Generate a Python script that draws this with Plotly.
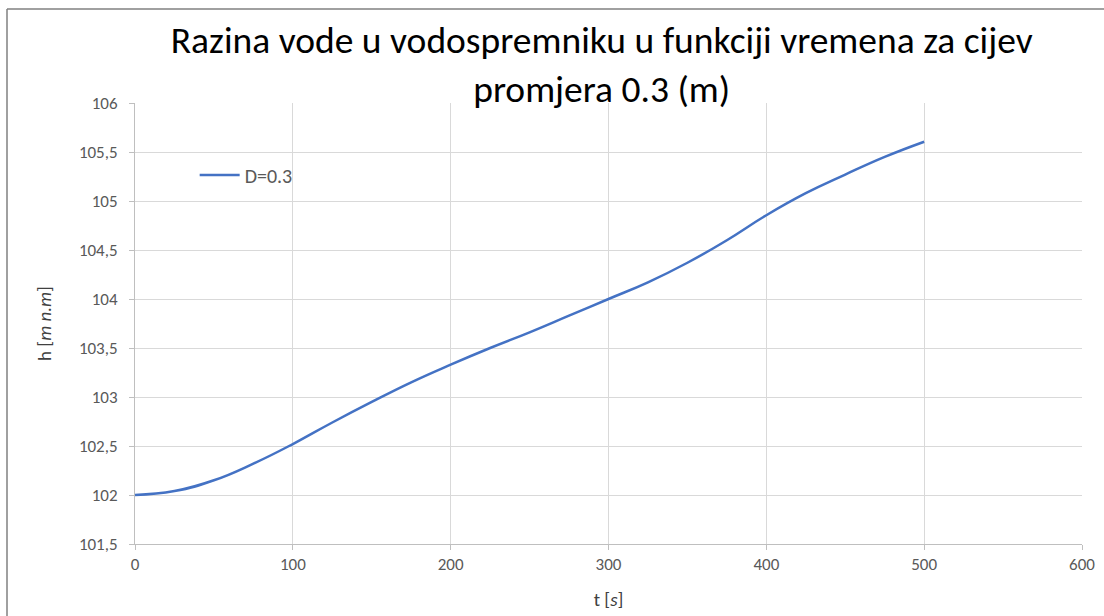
import plotly.graph_objects as go

t_vals = [0, 25, 50, 75, 100, 125, 150, 175, 200, 225, 250, 275, 300,
          325, 350, 375, 400, 425, 450, 475, 500]
h_vals = [102.0, 102.04, 102.15, 102.32, 102.52, 102.74, 102.95, 103.15, 103.33,
          103.50, 103.66, 103.83, 104.00, 104.17, 104.37, 104.60, 104.855,
          105.08, 105.27, 105.45, 105.605]
series_name = "D=0.3"
x_ticks = [0, 100, 200, 300, 400, 500, 600]
y_ticks = [101.5, 102, 102.5, 103, 103.5, 104, 104.5, 105, 105.5, 106]
y_tick_text = ["101,5", "102", "102,5", "103", "103,5", "104", "104,5", "105", "105,5", "106"]

FONT = "Carlito, Calibri, 'Liberation Sans Narrow', 'Open Sans', sans-serif"

fig = go.Figure()
fig.add_trace(go.Scatter(x=t_vals, y=h_vals, mode="lines", name=series_name,
                         line=dict(color="#4472C4", width=2.5, shape="spline", smoothing=1.3)))

fig.update_layout(
    width=1104, height=616,
    paper_bgcolor="white", plot_bgcolor="white",
    margin=dict(l=135, r=22, t=103, b=72),
    title=dict(text="Razina vode u vodospremniku u funkciji vremena za cijev<br>promjera 0.3 (m)",
               x=0.545, xanchor="center", yref="container", y=1 - 53 / 616, yanchor="middle",
               font=dict(family=FONT, size=37.5, color="black")),
    font=dict(family=FONT, color="#595959", size=17),
    showlegend=True,
    legend=dict(x=0.063, y=0.837, xanchor="left", yanchor="middle", itemwidth=40,
                bgcolor="rgba(0,0,0,0)", font=dict(size=20, color="#595959")),
    xaxis=dict(range=[0, 600], tickvals=x_ticks, showgrid=True, gridcolor="#d9d9d9", gridwidth=1,
               showline=True, linecolor="#bfbfbf", linewidth=1, zeroline=False,
               ticks="outside", ticklen=5, tickcolor="#bfbfbf", automargin=False,
               tickfont=dict(size=17, color="#595959"),
               title=dict(text="t [<i>s</i>]", font=dict(size=19, color="#404040"), standoff=18)),
    yaxis=dict(range=[101.5, 106], tickvals=y_ticks, ticktext=y_tick_text,
               showgrid=True, gridcolor="#d9d9d9", gridwidth=1,
               showline=True, linecolor="#bfbfbf", linewidth=1, zeroline=False,
               ticks="outside", ticklen=5, tickcolor="#bfbfbf", automargin=False,
               ticklabelstandoff=8,
               tickfont=dict(size=17, color="#595959"),
               title=dict(text="h [<i>m n.m</i>]", font=dict(size=19, color="#404040"), standoff=22)),
)

# outer chart border (top and left edges visible)
fig.add_shape(type="line", xref="paper", yref="paper",
              x0=(7 - 135) / 947, x1=(1104 - 135) / 947,
              y0=(544 - 9) / 441, y1=(544 - 9) / 441,
              line=dict(color="#808080", width=1.5))
fig.add_shape(type="line", xref="paper", yref="paper",
              x0=(7 - 135) / 947, x1=(7 - 135) / 947,
              y0=(544 - 9) / 441, y1=(544 - 620) / 441,
              line=dict(color="#808080", width=1.5))

fig.write_html("out.html", config={"displayModeBar": False},
               post_script="document.body.style.margin='0';document.body.style.overflow='hidden';")
